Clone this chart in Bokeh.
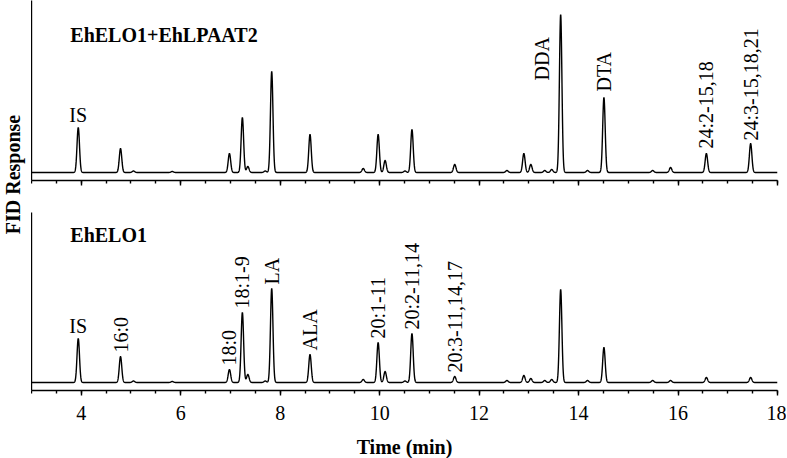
import numpy as np
from bokeh.plotting import figure
from bokeh.layouts import row, column
from bokeh.models import Range1d, SingleIntervalTicker, FixedTicker, Label
from bokeh.core.properties import value
from bokeh.embed import file_html
from bokeh.resources import INLINE

# ---------------- data ----------------
# retention times (min) of the peaks seen in both chromatograms
rt = [3.94, 4.79, 5.05, 5.83, 6.98, 7.24, 7.35, 7.70, 7.83, 8.60,
      9.67, 9.97, 10.11, 10.51, 10.65, 11.51, 12.56, 12.90, 13.04, 13.32,
      13.46, 13.64, 14.18, 14.51, 15.49, 15.85, 16.57, 17.46]
# peak heights (arbitrary FID units), upper trace: EhELO1+EhLPAAT2
h_top = [45, 24, 1.5, 1, 19, 55, 6, 1.5, 101, 38,
         4, 38, 12, 1.5, 43, 8, 2, 19, 8, 2,
         3, 158, 2, 75, 2, 5, 19, 29]
# peak heights, lower trace: EhELO1
h_bot = [44, 26, 1.5, 1, 13, 70, 8, 1.5, 94, 28,
         3, 40, 11, 1.5, 49, 6, 2, 7, 4, 2,
         3, 93, 2, 35, 2, 2, 5, 5]

top_title = "EhELO1+EhLPAAT2"
bot_title = "EhELO1"

top_labels = ["IS", "DDA", "DTA", "24:2-15,18", "24:3-15,18,21"]
top_label_rt = [3.94, 13.64, 14.51, 16.57, 17.46]
bot_labels = ["IS", "16:0", "18:0", "18:1-9", "LA", "ALA", "20:1-11",
              "20:2-11,14", "20:3-11,14,17"]
bot_label_rt = [3.94, 4.79, 6.98, 7.24, 7.83, 8.60, 9.97, 10.65, 11.51]

x_title = "Time (min)"
y_title = "FID Response"
x_start, x_end = 3, 18
tick_step = 2

# ---------------- style ----------------
FONT = value("Liberation Serif")
SIGMA = 0.025
LW = 1.4
FRAME_W = 746
STRIP_W = 31


def trace(heights):
    t = np.linspace(x_start, x_end, 6001)
    y = np.zeros_like(t)
    for r, h in zip(rt, heights):
        y += h * np.exp(-0.5 * ((t - r) / SIGMA) ** 2)
    return t, y


def style_axes(p, show_labels):
    p.xaxis.ticker = SingleIntervalTicker(interval=tick_step, num_minor_ticks=4)
    p.yaxis.ticker = FixedTicker(ticks=[0])
    p.yaxis.major_tick_out = 0
    p.yaxis.major_tick_in = 0
    p.yaxis.minor_tick_out = 0
    p.yaxis.minor_tick_in = 0
    p.yaxis.major_label_standoff = 0
    p.yaxis.major_label_overrides = {0: ""}
    p.yaxis.major_label_text_font_size = "1px"
    for ax in (p.xaxis[0], p.yaxis[0]):
        ax.axis_line_width = LW
        ax.axis_line_color = "black"
        ax.major_tick_line_color = "black"
        ax.minor_tick_line_color = "black"
        ax.major_tick_line_width = LW
        ax.minor_tick_line_width = LW
    p.xaxis.major_tick_out = 5
    p.xaxis.major_tick_in = 0
    p.xaxis.minor_tick_out = 3
    p.xaxis.minor_tick_in = 0
    p.xaxis.major_label_text_font = "Liberation Serif"
    p.xaxis.major_label_text_font_size = "20px"
    p.xaxis.major_label_text_color = "black"
    p.xaxis.major_label_standoff = 10
    if not show_labels:
        p.xaxis.major_label_overrides = {
            float(v): "" for v in np.arange(x_start - 1, x_end + 2, 1)}
        p.xaxis.major_label_text_font_size = "1px"
        p.xaxis.major_label_standoff = 0
    p.xgrid.visible = False
    p.ygrid.visible = False
    p.outline_line_color = None


def label_heights(heights, label_rt):
    return [heights[rt.index(r)] for r in label_rt]


# ---------------- top panel ----------------
pt = figure(frame_width=FRAME_W, frame_height=180, x_range=Range1d(x_start, x_end),
            y_range=Range1d(-8, 172), toolbar_location=None, output_backend="svg",
            min_border_left=0, min_border_right=9, min_border_top=0,
            min_border_bottom=32)
style_axes(pt, False)
tx, ty = trace(h_top)
pt.line(tx, ty, line_color="black", line_width=LW)

pt.add_layout(Label(x=3.78, y=138, text=top_title, text_font="Liberation Serif",
                    text_font_style="bold", text_font_size="20px",
                    text_baseline="middle", text_align="left", text_color="black"))
lh = label_heights(h_top, top_label_rt)
# "IS" horizontal
pt.text(x=[top_label_rt[0]], y=[lh[0] + 2], text=[top_labels[0]], text_font=FONT,
        text_font_size="20px", text_align="center", text_baseline="bottom",
        text_color="black")
rot_x_off = [-19, 0, 0, 0]
rot_y = [92, lh[2] + 6, lh[3] + 5, lh[4] + 3]
pt.text(x=top_label_rt[1:], y=rot_y, text=top_labels[1:], text_font=FONT,
        text_font_size="20px", text_align="left", text_baseline="middle",
        angle=np.pi / 2, x_offset=rot_x_off, text_color="black")

# ---------------- bottom panel ----------------
pb = figure(frame_width=FRAME_W, frame_height=178, x_range=pt.x_range,
            y_range=Range1d(-8, 170), toolbar_location=None, output_backend="svg",
            min_border_left=0, min_border_right=9, min_border_top=0,
            min_border_bottom=0)
style_axes(pb, True)
pb.xaxis.axis_label = x_title
pb.xaxis.axis_label_text_font = "Liberation Serif"
pb.xaxis.axis_label_text_font_style = "bold"
pb.xaxis.axis_label_text_font_size = "20px"
pb.xaxis.axis_label_text_color = "black"
pb.xaxis.axis_label_standoff = 13
bx, by = trace(h_bot)
pb.line(bx, by, line_color="black", line_width=LW)

pb.add_layout(Label(x=3.78, y=148, text=bot_title, text_font="Liberation Serif",
                    text_font_style="bold", text_font_size="20px",
                    text_baseline="middle", text_align="left", text_color="black"))
bh = label_heights(h_bot, bot_label_rt)
pb.text(x=[bot_label_rt[0]], y=[bh[0] + 2], text=[bot_labels[0]], text_font=FONT,
        text_font_size="20px", text_align="center", text_baseline="bottom",
        text_color="black")
pb.text(x=bot_label_rt[1:], y=[v + 4 for v in bh[1:]], text=bot_labels[1:],
        text_font=FONT, text_font_size="20px", text_align="left",
        text_baseline="middle", angle=np.pi / 2, text_color="black")

# ---------------- y title strip ----------------
pl = figure(width=STRIP_W, height=458, x_range=Range1d(0, STRIP_W),
            y_range=Range1d(458, 0), toolbar_location=None, output_backend="svg",
            x_axis_type=None, y_axis_type=None, min_border=0)
pl.outline_line_color = None
pl.xgrid.visible = False
pl.ygrid.visible = False
pl.text(x=[12], y=[174], text=[y_title], text_font=FONT, text_font_style="bold",
        text_font_size="20px", text_align="center", text_baseline="middle",
        angle=np.pi / 2, text_color="black")

layout = row(pl, column(pt, pb))
open("out.html", "w").write(file_html(layout, INLINE))
